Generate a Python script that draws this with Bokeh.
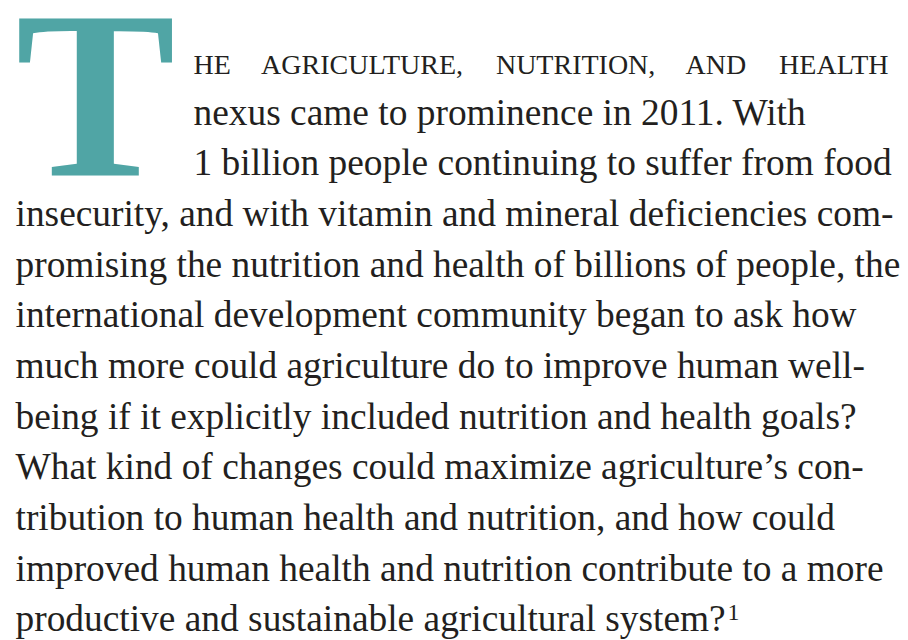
from bokeh.plotting import figure
from bokeh.models import Range1d, ColumnDataSource
from bokeh.core.properties import value
from bokeh.embed import file_html
from bokeh.resources import INLINE

# ---- text content (data) ----
drop_cap = ["T"]
lead_in_words = ["HE", "AGRICULTURE,", "NUTRITION,", "AND", "HEALTH"]
indented_lines = [
    "nexus came to prominence in 2011. With",
    "1 billion people continuing to suffer from food",
]
body_lines = [
    "insecurity, and with vitamin and mineral deficiencies com-",
    "promising the nutrition and health of billions of people, the",
    "international development community began to ask how",
    "much more could agriculture do to improve human well-",
    "being if it explicitly included nutrition and health goals?",
    "What kind of changes could maximize agriculture\u2019s con-",
    "tribution to human health and nutrition, and how could",
    "improved human health and nutrition contribute to a more",
    "productive and sustainable agricultural system?",
]
footnote_mark = ["1"]

# ---- layout / style constants ----
W, H = 908, 640
LEFT, INDENT, RIGHT = 15.0, 193.0, 888.0
BASE0, LEAD = 74.0, 50.65
CAP_CENTER, CAP_BASE = 95.0, 177.0
SUP_RAISE = 11.0
BODY_SIZE, CAPS_SIZE, CAP_SIZE, SUP_SIZE = 37.4, 28.0, 240.0, 24.0
SHIFT = 0.345  # renderer baseline correction, in em
INK = "#231f20"
TEAL = "#50a5a5"
FONT = "Liberation Serif"

# Times-Roman advance widths (1/1000 em), used only for word placement
TIMES = {" ": 250, ",": 250, ".": 250, "-": 333, "?": 444, "\u2019": 333,
         "A": 722, "C": 667, "D": 722, "E": 611, "G": 722, "H": 722, "I": 333,
         "L": 611, "N": 722, "O": 722, "R": 667, "T": 611, "U": 722, "W": 944,
         "a": 444, "b": 500, "c": 444, "d": 500, "e": 444, "f": 333, "g": 500,
         "h": 500, "i": 278, "j": 278, "k": 500, "l": 278, "m": 778, "n": 500,
         "o": 500, "p": 500, "q": 500, "r": 333, "s": 389, "t": 278, "u": 500,
         "v": 500, "w": 722, "x": 500, "y": 500, "z": 444}


def text_width(s, size):
    return sum(TIMES.get(ch, 500) for ch in s) * size / 1000.0


def base(y, size):
    return y - SHIFT * size


p = figure(width=W, height=H, output_backend="svg", toolbar_location=None,
           tools="", x_range=Range1d(0, W), y_range=Range1d(H, 0),
           x_axis_location=None, y_axis_location=None, min_border=0)
p.outline_line_color = None
p.grid.visible = False
p.background_fill_color = "white"
p.border_fill_color = "white"

# drop cap
p.text(x=[CAP_CENTER], y=[base(CAP_BASE, CAP_SIZE)], text=drop_cap,
       text_font=value(FONT), text_font_style="bold",
       text_font_size=f"{CAP_SIZE}px", text_color=TEAL,
       text_align="center", text_baseline="alphabetic")

# lead-in small caps line, justified between INDENT and RIGHT
widths = [text_width(w, CAPS_SIZE) for w in lead_in_words]
gap = (RIGHT - INDENT - sum(widths)) / (len(lead_in_words) - 1)
xs, x = [], INDENT
for w in widths:
    xs.append(x)
    x += w + gap
xs[-1] = RIGHT
aligns = ["left"] * (len(lead_in_words) - 1) + ["right"]
src_caps = ColumnDataSource(dict(x=xs, y=[base(BASE0, CAPS_SIZE)] * len(xs),
                                 text=lead_in_words, align=aligns))
p.text(x="x", y="y", text="text", source=src_caps, text_align="align",
       text_font=value(FONT), text_font_size=f"{CAPS_SIZE}px",
       text_color=INK, text_baseline="alphabetic")

# indented lines beside the drop cap
p.text(x=[INDENT] * len(indented_lines),
       y=[base(BASE0 + LEAD * (i + 1), BODY_SIZE) for i in range(len(indented_lines))],
       text=indented_lines, text_font=value(FONT),
       text_font_size=f"{BODY_SIZE}px", text_color=INK,
       text_align="left", text_baseline="alphabetic")

# full-width body lines
n0 = 1 + len(indented_lines)
body_base = [BASE0 + LEAD * (n0 + i) for i in range(len(body_lines))]
p.text(x=[LEFT] * len(body_lines), y=[base(b, BODY_SIZE) for b in body_base],
       text=body_lines, text_font=value(FONT), text_font_size=f"{BODY_SIZE}px",
       text_color=INK, text_align="left", text_baseline="alphabetic")

# footnote superscript
p.text(x=[LEFT + text_width(body_lines[-1], BODY_SIZE) + 1.5],
       y=[base(body_base[-1] - SUP_RAISE, SUP_SIZE)], text=footnote_mark,
       text_font=value(FONT), text_font_size=f"{SUP_SIZE}px", text_color=INK,
       text_align="left", text_baseline="alphabetic")

open("out.html", "w").write(file_html(p, INLINE))
